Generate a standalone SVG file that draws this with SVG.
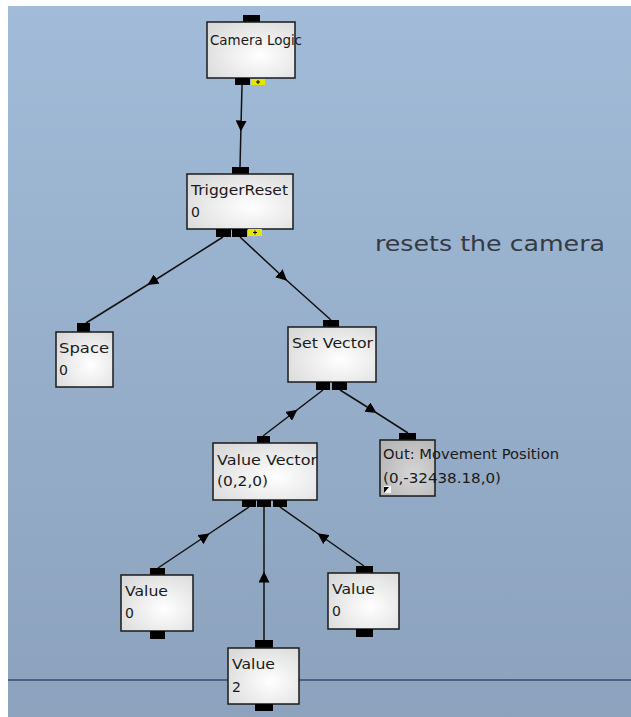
<svg xmlns="http://www.w3.org/2000/svg" width="631" height="717" viewBox="0 0 631 717">
<defs>
<linearGradient id="bg" x1="0" y1="0" x2="0" y2="1">
<stop offset="0" stop-color="#a1bbd8"/>
<stop offset="1" stop-color="#8ca2bd"/>
</linearGradient>
<radialGradient id="nodeFill" cx="0.6" cy="0.6" r="0.75">
<stop offset="0" stop-color="#ffffff"/>
<stop offset="1" stop-color="#d9d9d9"/>
</radialGradient>
<radialGradient id="outFill" cx="0.6" cy="0.6" r="0.75">
<stop offset="0" stop-color="#d6d6d6"/>
<stop offset="1" stop-color="#b4b4b4"/>
</radialGradient>
<marker id="arr" viewBox="0 0 10 10" refX="5" refY="5" markerWidth="11" markerHeight="11" markerUnits="userSpaceOnUse" orient="auto">
<path d="M0,0 L10,5 L0,10 z" fill="#000"/>
</marker>
</defs>
<style>
.box{fill:url(#nodeFill);stroke:#1a1a1a;stroke-width:1.5}
.out{fill:url(#outFill);stroke:#1a1a1a;stroke-width:1.5}
.port{fill:#000}
.yport{fill:#e6e600}
.lbl{font-family:"DejaVu Sans","Liberation Sans",sans-serif;font-size:14px;fill:#1a1a1a}
.conn{fill:none;stroke:#111;stroke-width:1.5;marker-mid:url(#arr)}
</style>
<rect x="0" y="0" width="631" height="717" fill="#ffffff"/>
<rect x="8" y="6" width="623" height="711" fill="url(#bg)"/>
<rect x="8" y="679" width="623" height="2" fill="#4b5f88"/>
<text x="375" y="251" font-family="'DejaVu Sans','Liberation Sans',sans-serif" font-size="22" fill="#333a44" textLength="230" lengthAdjust="spacingAndGlyphs">resets the camera</text>

<g id="connectors">
<path class="conn" d="M242,85 L241,126 L240,167"/>
<path class="conn" d="M223,237 L152,282 L86,323"/>
<path class="conn" d="M240,237 L283,277 L331,320"/>
<path class="conn" d="M263,436 L293,413 L323,390"/>
<path class="conn" d="M340,390 L372,410 L408,433"/>
<path class="conn" d="M158,568 L205,536.5 L249,507"/>
<path class="conn" d="M264,640 L264,577 L264,507"/>
<path class="conn" d="M364,566 L322,536.5 L280,507"/>
</g>

<g id="camera-logic">
<rect class="port" x="243" y="15" width="17" height="7"/>
<rect class="box" x="207" y="22" width="88" height="56"/>
<rect class="port" x="235" y="78" width="15" height="7"/>
<rect class="yport" x="251" y="79" width="14" height="6"/>
<path d="M256,82 h4 M258,80 v4" stroke="#000" stroke-width="1"/>
<text class="lbl" x="210" y="45" textLength="92" lengthAdjust="spacingAndGlyphs">Camera Logic</text>
</g>

<g id="trigger-reset">
<rect class="port" x="232" y="167" width="17" height="7"/>
<rect class="box" x="187" y="174" width="106" height="55"/>
<rect class="port" x="216" y="229" width="15" height="8"/>
<rect class="port" x="232" y="229" width="15" height="8"/>
<rect class="yport" x="248" y="229" width="14" height="7"/>
<path d="M253,232.5 h4 M255,230.5 v4" stroke="#000" stroke-width="1"/>
<text class="lbl" x="191" y="195" textLength="97" lengthAdjust="spacingAndGlyphs">TriggerReset</text>
<text class="lbl" x="191" y="217">0</text>
</g>

<g id="space">
<rect class="port" x="77" y="323" width="13" height="9"/>
<rect class="box" x="56" y="332" width="57" height="55"/>
<text class="lbl" x="59" y="353" textLength="50" lengthAdjust="spacingAndGlyphs">Space</text>
<text class="lbl" x="59" y="375">0</text>
</g>

<g id="set-vector">
<rect class="port" x="323" y="320" width="16" height="7"/>
<rect class="box" x="288" y="327" width="88" height="55"/>
<rect class="port" x="316" y="382" width="14" height="8"/>
<rect class="port" x="332" y="382" width="15" height="8"/>
<text class="lbl" x="292" y="348" textLength="81" lengthAdjust="spacingAndGlyphs">Set Vector</text>
</g>

<g id="value-vector">
<rect class="port" x="257" y="436" width="13" height="7"/>
<rect class="box" x="213" y="443" width="104" height="57"/>
<rect class="port" x="242" y="500" width="14" height="7"/>
<rect class="port" x="257" y="500" width="14" height="7"/>
<rect class="port" x="273" y="500" width="14" height="7"/>
<text class="lbl" x="217" y="465" textLength="100" lengthAdjust="spacingAndGlyphs">Value Vector</text>
<text class="lbl" x="217" y="486" textLength="51" lengthAdjust="spacingAndGlyphs">(0,2,0)</text>
</g>

<g id="out-movement-position">
<rect class="port" x="399" y="433" width="17" height="7"/>
<rect class="out" x="380" y="440" width="55" height="56"/>
<rect x="384" y="486" width="7" height="7" fill="#f4f4f4"/>
<path d="M384,493 L384,487 L389,487 Z" fill="#000"/>
<text class="lbl" x="383" y="459" textLength="176" lengthAdjust="spacingAndGlyphs">Out: Movement Position</text>
<text class="lbl" x="383" y="483" textLength="118" lengthAdjust="spacingAndGlyphs">(0,-32438.18,0)</text>
</g>

<g id="value-left">
<rect class="port" x="150" y="568" width="15" height="7"/>
<rect class="box" x="121" y="575" width="72" height="56"/>
<rect class="port" x="150" y="631" width="15" height="8"/>
<text class="lbl" x="125" y="596" textLength="43" lengthAdjust="spacingAndGlyphs">Value</text>
<text class="lbl" x="125" y="618">0</text>
</g>

<g id="value-right">
<rect class="port" x="356" y="566" width="17" height="7"/>
<rect class="box" x="328" y="573" width="71" height="56"/>
<rect class="port" x="356" y="629" width="17" height="8"/>
<text class="lbl" x="332" y="594" textLength="43" lengthAdjust="spacingAndGlyphs">Value</text>
<text class="lbl" x="332" y="616">0</text>
</g>

<g id="value-middle">
<rect class="port" x="255" y="640" width="18" height="8"/>
<rect class="box" x="228" y="648" width="71" height="56"/>
<rect class="port" x="255" y="704" width="18" height="7"/>
<text class="lbl" x="232" y="669" textLength="43" lengthAdjust="spacingAndGlyphs">Value</text>
<text class="lbl" x="232" y="692">2</text>
</g>
</svg>
